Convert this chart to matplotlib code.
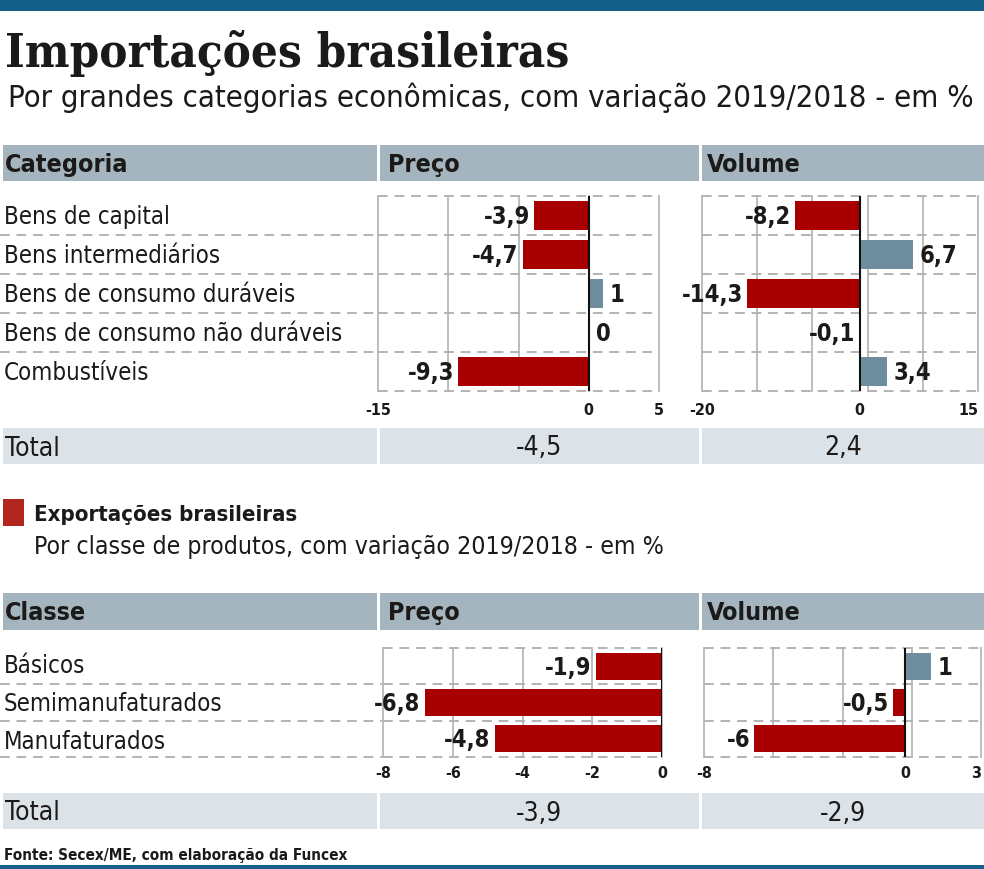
import numpy as np
import matplotlib
matplotlib.use('Agg')
import matplotlib.pyplot as plt
from matplotlib import font_manager
from matplotlib.font_manager import FontProperties
from matplotlib.patches import Rectangle
from matplotlib.textpath import TextPath

plt.rcParams['axes.unicode_minus'] = False

# --- data -------------------------------------------------------------
imp_categories = ['Bens de capital', 'Bens intermediários', 'Bens de consumo duráveis',
                  'Bens de consumo não duráveis', 'Combustíveis']
imp_preco = [-3.9, -4.7, 1, 0, -9.3]
imp_volume = [-8.2, 6.7, -14.3, -0.1, 3.4]
imp_total = [-4.5, 2.4]
imp_preco_ticks = [-15, 0, 5]
imp_volume_ticks = [-20, 0, 15]

exp_classes = ['Básicos', 'Semimanufaturados', 'Manufaturados']
exp_preco = [-1.9, -6.8, -4.8]
exp_volume = [1, -0.5, -6]
exp_total = [-3.9, -2.9]
exp_preco_ticks = [-8, -6, -4, -2, 0]
exp_volume_ticks = [-8, 0, 3]

# --- style ------------------------------------------------------------
W, H = 984, 869
INK = '#1c1a18'
RED = '#a80000'
BLUE = '#6f8e9d'
BAND = '#a4b5bf'
BAND_LIGHT = '#dbe2e8'
TOPBAR = '#15608a'
GRID = '#bdbdbd'
DASH = '#b3b3b3'


def pick_font(candidates, fallback):
    for name, weight, stretch in candidates:
        for f in font_manager.fontManager.ttflist:
            w = f.weight if isinstance(f.weight, int) else font_manager.weight_dict.get(f.weight, 400)
            if f.name != name or f.style != 'normal' or abs(w - weight) > 50:
                continue
            if stretch is not None and f.stretch != stretch:
                continue
            return FontProperties(fname=f.fname)
    return FontProperties(family=fallback[0], weight=fallback[1])


REG = pick_font([('DejaVu Sans', 400, 'condensed'), ('Liberation Sans Narrow', 400, None)],
                ('DejaVu Sans', 'normal'))
BOLD = pick_font([('DejaVu Sans', 700, 'condensed'), ('Liberation Sans Narrow', 700, None)],
                 ('DejaVu Sans', 'bold'))
SERIF = pick_font([('DejaVu Serif', 700, 'condensed'), ('DejaVu Serif', 700, 'normal')],
                  ('DejaVu Serif', 'bold'))


def fit_size(s, fp, width_px):
    w = TextPath((0, 0), s, size=100, prop=fp).get_extents().width
    return width_px * 0.72 * 100 / w


fig = plt.figure(figsize=(W / 100, H / 100), dpi=100)
bg = fig.add_axes([0, 0, 1, 1])
bg.set_xlim(0, W)
bg.set_ylim(H, 0)
bg.axis('off')


def label(x, yc, s, fp, size, **kw):
    # yc is the vertical centre of the capitals, in pixels
    bg.text(x, yc + 0.5 * size, s, fontproperties=fp, fontsize=size,
            va='baseline', color=INK, **kw)


def band(y0, y1, color):
    for x0, x1 in [(3, 377), (380, 699), (702, 984)]:
        bg.add_patch(Rectangle((x0, y0), x1 - x0, y1 - y0, color=color, lw=0))


def px_axes(x0, y0, x1, y1):
    ax = fig.add_axes([x0 / W, 1 - y1 / H, (x1 - x0) / W, (y1 - y0) / H])
    ax.patch.set_visible(False)
    return ax


def fmt(v):
    return f'{v:g}'.replace('.', ',')


def panel(box, values, xlim, grid, ticks, bar_h, tick_pad, last_right=False):
    ax = px_axes(*box)
    n = len(values)
    ax.set_xlim(xlim)
    ax.set_ylim(n - 0.5, -0.5)
    for g in grid:
        ax.axvline(g, color=GRID, lw=1.4, zorder=1, clip_on=False)
    for k in range(n + 1):
        ax.axhline(k - 0.5, color=DASH, lw=1.4, ls=(0, (5, 3.5)), zorder=1, clip_on=False)
    colors = [RED if v < 0 else BLUE for v in values]
    ax.barh(np.arange(n), values, height=bar_h, color=colors, zorder=2)
    ax.axvline(0, color='#111111', lw=1.5, zorder=3)
    for i, v in enumerate(values):
        neg = v < 0
        ax.annotate(fmt(v), xy=(v, i), xytext=(-3 if neg else 5, -6.2),
                    textcoords='offset points', ha='right' if neg else 'left',
                    va='baseline', fontproperties=BOLD, fontsize=17, color=INK)
    for s in ax.spines.values():
        s.set_visible(False)
    ax.set_yticks([])
    ax.set_xticks(ticks, labels=[str(t) for t in ticks])
    ax.tick_params(axis='x', length=0, pad=tick_pad)
    for t in ax.get_xticklabels():
        t.set_fontproperties(BOLD)
        t.set_fontsize(11.5)
        t.set_color(INK)
    if last_right:
        ax.get_xticklabels()[-1].set_horizontalalignment('right')
    return ax


# --- frame ------------------------------------------------------------
bg.add_patch(Rectangle((0, 0), W, 11, color=TOPBAR, lw=0))
bg.add_patch(Rectangle((0, 865), W, 4, color=TOPBAR, lw=0))

title = 'Importações brasileiras'
label(5, 50, title, SERIF, fit_size(title, SERIF, 560))
sub = 'Por grandes categorias econômicas, com variação 2019/2018 - em %'
label(8, 96, sub, REG, fit_size(sub, REG, 962))

# --- imports table ----------------------------------------------------
band(145, 181, BAND)
label(5, 163, 'Categoria', BOLD, 18)
label(388, 163, 'Preço', BOLD, 18)
label(707, 163, 'Volume', BOLD, 18)

row_size = min(18, fit_size(imp_categories[3], REG, 334))
top0, top1 = 196, 391
rh = (top1 - top0) / len(imp_categories)
for i, name in enumerate(imp_categories):
    label(4, top0 + rh * (i + 0.5), name, REG, row_size)
for k in range(1, len(imp_categories)):
    y = top0 + rh * k
    bg.plot([0, 377], [y, y], color=DASH, lw=1.4, ls=(0, (5, 3.5)))

panel((378, top0, 659, top1), imp_preco, (-15, 5), np.arange(-15, 6, 5),
      imp_preco_ticks, 0.72, 8.5)
panel((702, top0, 978, top1), imp_volume, (-20, 15), np.linspace(-20, 15, 6),
      imp_volume_ticks, 0.72, 8.5, last_right=True)

band(428, 464, BAND_LIGHT)
label(5, 446, 'Total', REG, 19)
label(539, 446, fmt(imp_total[0]), REG, 19, ha='center')
label(843, 446, fmt(imp_total[1]), REG, 19, ha='center')

# --- exports block ----------------------------------------------------
bg.add_patch(Rectangle((3, 499), 21, 27, color='#b3261e', lw=0))
exp_title = 'Exportações brasileiras'
label(34, 513, exp_title, BOLD, fit_size(exp_title, BOLD, 261))
exp_sub = 'Por classe de produtos, com variação 2019/2018 - em %'
label(34, 545, exp_sub, REG, fit_size(exp_sub, REG, 626))

band(593, 630, BAND)
label(5, 611, 'Classe', BOLD, 18)
label(388, 611, 'Preço', BOLD, 18)
label(707, 611, 'Volume', BOLD, 18)

bot0, bot1 = 648, 757
rh2 = (bot1 - bot0) / len(exp_classes)
for i, name in enumerate(exp_classes):
    label(4, bot0 + rh2 * (i + 0.5) - 2 + 2 * i, name, REG, row_size)
for k in range(1, len(exp_classes) + 1):
    y = bot0 + rh2 * k
    bg.plot([0, 382], [y, y], color=DASH, lw=1.4, ls=(0, (5, 3.5)))

panel((383, bot0, 662, bot1), exp_preco, (-8, 0), exp_preco_ticks,
      exp_preco_ticks, 0.75, 6.5)
panel((704, bot0, 981, bot1), exp_volume, (-8, 3), np.linspace(-8, 3, 5),
      exp_volume_ticks, 0.75, 6.5, last_right=True)

band(793, 829, BAND_LIGHT)
label(5, 811, 'Total', REG, 19)
label(539, 811, fmt(exp_total[0]), REG, 19, ha='center')
label(843, 811, fmt(exp_total[1]), REG, 19, ha='center')

src = 'Fonte: Secex/ME, com elaboração da Funcex'
label(4, 855, src, BOLD, fit_size(src, BOLD, 340))

fig.savefig('out.png', dpi=100)
